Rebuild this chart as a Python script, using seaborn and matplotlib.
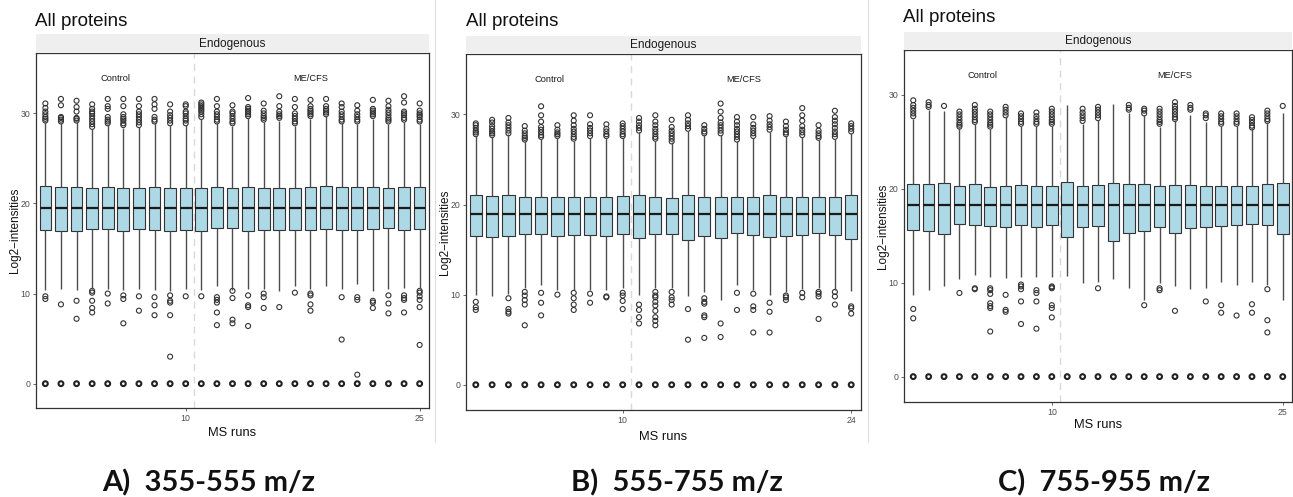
import numpy as np
import pandas as pd
import matplotlib
matplotlib.use("Agg")
import matplotlib.pyplot as plt
from matplotlib.lines import Line2D
import seaborn as sns

# ---- panel A : 355-555 m/z (25 runs) ----
a_runs = list(range(1, 26))
a_q1 = [17.1, 17.0, 17.0, 17.2, 17.2, 17.0, 17.2, 17.1, 17.0, 17.1, 17.0, 17.3, 17.3,
        17.0, 17.1, 17.1, 17.1, 17.1, 17.2, 17.1, 17.1, 17.2, 17.3, 17.1, 17.2]
a_med = [19.45, 19.45, 19.45, 19.45, 19.45, 19.45, 19.45, 19.45, 19.45, 19.45, 19.45, 19.45, 19.45,
         19.45, 19.45, 19.45, 19.45, 19.45, 19.45, 19.45, 19.45, 19.45, 19.45, 19.45, 19.45]
a_q3 = [21.9, 21.85, 21.85, 21.7, 21.8, 21.7, 21.7, 21.8, 21.7, 21.7, 21.7, 21.85, 21.7,
        21.85, 21.7, 21.7, 21.7, 21.8, 21.9, 21.8, 21.8, 21.8, 21.7, 21.8, 21.8]
a_lo = [10.4, 10.5, 10.4, 10.5, 10.5, 10.4, 10.5, 10.4, 10.3, 10.5, 10.4, 10.8, 10.4,
        10.5, 10.5, 10.3, 10.8, 10.5, 10.8, 10.5, 11.1, 10.3, 10.5, 10.6, 10.5]
a_hi = [29.0, 28.9, 29.0, 28.3, 28.7, 28.4, 28.5, 28.9, 28.7, 28.7, 29.4, 28.9, 28.6,
        29.5, 29.0, 29.2, 28.6, 29.4, 29.7, 28.9, 28.8, 29.4, 28.8, 29.0, 28.8]
a_high_out = [
    [29.2, 29.4, 29.6, 29.9, 30.2, 30.6, 31.1],
    [29.1, 29.3, 29.5, 29.6, 30.9, 31.6],
    [29.2, 29.4, 29.5, 30.2, 30.7, 31.4],
    [28.5, 28.8, 29.1, 29.4, 29.7, 30.0, 30.2, 30.5, 31.0],
    [28.9, 29.1, 29.3, 29.6, 30.5, 30.8, 31.6],
    [28.7, 28.9, 29.2, 29.4, 29.6, 29.9, 30.8, 31.6],
    [28.7, 29.0, 29.3, 29.6, 29.9, 30.2, 30.8, 31.6],
    [29.1, 29.3, 29.6, 30.5, 31.0, 31.6],
    [28.9, 29.2, 29.5, 29.8, 30.2, 31.0],
    [28.9, 29.2, 29.4, 29.7, 30.0, 30.2, 30.8, 31.0],
    [29.6, 29.9, 30.2, 30.4, 30.6, 30.8, 31.0, 31.2],
    [29.1, 29.3, 29.6, 29.9, 30.2, 30.8, 31.6],
    [28.9, 29.1, 29.4, 29.7, 30.0, 30.2, 30.9],
    [29.7, 29.9, 30.1, 30.3, 30.5, 30.7, 31.7],
    [29.3, 29.5, 29.7, 30.0, 30.3, 31.1],
    [29.5, 29.7, 29.9, 30.2, 30.8, 31.9],
    [28.9, 29.1, 29.4, 29.7, 30.0, 30.7, 31.6],
    [29.7, 29.9, 30.1, 30.3, 30.5, 30.8, 31.5],
    [29.9, 30.1, 30.3, 30.5, 30.8, 31.6],
    [29.1, 29.3, 29.6, 29.9, 30.2, 30.7, 31.1],
    [29.1, 29.3, 29.6, 29.9, 30.3, 30.9],
    [29.7, 29.9, 30.1, 30.3, 30.5, 31.5],
    [29.1, 29.3, 29.5, 29.8, 30.1, 30.4, 30.8, 31.4],
    [29.3, 29.5, 29.8, 30.0, 30.2, 31.2, 31.9],
    [29.1, 29.3, 29.6, 29.8, 30.0, 30.3, 31.1],
]
a_low_out = [
    [9.7, 9.4], [8.8], [9.2, 7.2], [10.3, 10.1, 9.2, 8.4, 7.9], [10.0, 8.9],
    [9.8, 9.4, 6.7], [9.7, 8.1], [9.6, 8.7, 7.6], [9.8, 9.2, 9.0, 7.6, 3.0], [9.7],
    [9.7], [9.6, 9.3, 9.0, 7.9, 6.5], [10.3, 9.5, 7.1, 6.7], [9.8, 8.7, 8.5, 6.4], [10.0, 9.6, 8.4],
    [8.5], [10.1], [10.0, 9.8, 8.8, 8.1], [], [9.6, 4.9],
    [9.6, 9.3, 1.0], [9.2, 9.0, 8.4], [9.8, 8.9, 7.8], [9.8, 9.5, 9.3, 7.9], [10.3, 10.1, 9.7, 9.3, 8.5, 4.3],
]

# ---- panel B : 555-755 m/z (24 runs) ----
b_runs = list(range(1, 25))
b_q1 = [16.5, 16.4, 16.5, 16.7, 16.7, 16.5, 16.6, 16.6, 16.5, 16.7, 16.3, 16.7,
        16.7, 16.1, 16.5, 16.3, 16.85, 16.6, 16.4, 16.5, 16.6, 16.8, 16.6, 16.2]
b_med = [18.9, 18.9, 18.9, 18.9, 18.9, 18.9, 18.9, 18.9, 18.9, 18.9, 18.9, 18.9,
         18.9, 18.9, 18.9, 18.9, 18.9, 18.9, 18.9, 18.9, 18.9, 18.9, 18.9, 18.9]
b_q3 = [21.0, 20.9, 21.0, 20.85, 20.85, 20.85, 20.8, 20.85, 20.85, 20.9, 21.0, 20.8,
        20.7, 21.0, 20.85, 20.85, 20.85, 20.85, 21.0, 20.85, 20.85, 20.85, 20.8, 21.0]
b_lo = [10.0, 9.8, 10.1, 10.7, 11.1, 10.5, 10.5, 10.5, 10.5, 10.7, 10.0, 10.7,
        10.7, 9.9, 10.3, 9.4, 11.1, 10.5, 10.0, 10.3, 10.6, 10.7, 10.5, 10.4]
b_hi = [27.6, 27.5, 27.8, 27.0, 27.3, 27.4, 27.1, 27.4, 27.4, 27.4, 28.0, 27.1,
        26.9, 28.2, 27.7, 27.7, 27.0, 27.4, 28.1, 27.6, 27.5, 27.2, 27.3, 27.9]
b_high_out = [
    [27.8, 28.0, 28.2, 28.5, 28.8, 29.0],
    [27.7, 27.9, 28.1, 28.4, 28.7, 29.1, 29.4],
    [27.9, 28.2, 28.5, 28.8, 29.1, 29.6],
    [27.2, 27.4, 27.6, 27.9, 28.2, 28.7],
    [27.5, 27.7, 28.0, 28.3, 28.6, 29.2, 29.9, 30.9],
    [27.6, 27.8, 28.0, 28.3, 28.8],
    [27.3, 27.5, 27.8, 28.1, 28.4, 28.8, 29.3, 29.9],
    [27.6, 27.9, 28.2, 28.5, 28.9, 29.9],
    [27.6, 27.8, 28.1, 28.4, 28.9],
    [27.6, 27.8, 28.1, 28.4, 28.7, 29.0],
    [28.2, 28.5, 28.8, 29.2, 29.6],
    [27.3, 27.5, 27.8, 28.1, 28.4, 28.8, 29.2, 29.9],
    [27.0, 27.3, 27.6, 27.9, 28.2, 28.6, 29.4],
    [28.4, 28.7, 29.0, 29.4, 29.9],
    [27.9, 28.1, 28.4, 28.8],
    [27.9, 28.2, 28.5, 28.8, 29.1, 29.6, 30.3, 31.2],
    [27.2, 27.5, 27.8, 28.1, 28.4, 28.8, 29.2, 29.7],
    [27.6, 27.9, 28.2, 28.5, 28.9, 29.7],
    [28.3, 28.6, 28.9, 29.3, 29.8],
    [27.8, 28.0, 28.3, 28.7, 29.2],
    [27.7, 28.0, 28.3, 28.7, 29.3, 29.9, 30.7],
    [27.4, 27.6, 27.9, 28.2, 28.8],
    [27.5, 27.8, 28.1, 28.5, 28.9, 29.3, 29.7, 30.4],
    [28.1, 28.4, 28.7, 29.0],
]
b_low_out = [
    [9.2, 8.6, 8.3], [], [9.6, 8.4, 8.1, 7.9], [10.3, 9.9, 9.4, 8.9, 6.6], [10.2, 9.1, 7.7],
    [10.0], [10.2, 9.6, 8.9, 8.3], [10.1, 9.1], [9.8, 9.7], [10.2, 9.9, 9.3, 8.4],
    [8.9, 8.3, 7.5, 6.8], [10.3, 9.9, 9.7, 9.2, 8.8, 8.2, 7.5, 7.1, 6.6], [10.3, 9.7, 9.4, 8.9],
    [8.4, 5.0], [9.6, 9.2, 9.0, 7.7, 7.5, 5.2], [6.8, 5.3], [10.2, 8.3], [10.1, 8.7, 8.3, 5.8],
    [9.1, 8.1, 5.8], [9.9, 9.7, 9.4], [10.2, 9.7], [10.3, 10.1, 9.8, 7.3], [10.3, 9.8, 8.9],
    [8.7, 8.5, 7.9],
]

# ---- panel C : 755-955 m/z (25 runs) ----
c_runs = list(range(1, 26))
c_q1 = [15.6, 15.5, 15.2, 16.2, 16.1, 16.0, 15.9, 16.1, 15.9, 16.1, 14.9, 15.9, 16.0,
        14.4, 15.3, 15.5, 15.9, 15.3, 15.8, 15.9, 16.0, 16.1, 16.2, 16.1, 15.2]
c_med = [18.3, 18.3, 18.3, 18.3, 18.3, 18.3, 18.3, 18.3, 18.3, 18.3, 18.3, 18.3, 18.3,
         18.3, 18.3, 18.3, 18.3, 18.3, 18.3, 18.3, 18.3, 18.3, 18.3, 18.3, 18.3]
c_q3 = [20.5, 20.5, 20.6, 20.3, 20.5, 20.2, 20.3, 20.4, 20.3, 20.3, 20.7, 20.3, 20.4,
        20.6, 20.5, 20.5, 20.3, 20.4, 20.4, 20.3, 20.3, 20.3, 20.3, 20.5, 20.6]
c_lo = [8.7, 9.2, 9.65, 10.4, 10.8, 10.6, 10.5, 10.6, 10.6, 10.55, 10.7, 10.0, 10.1,
        10.4, 9.4, 8.2, 10.0, 9.65, 9.3, 9.4, 10.1, 9.75, 10.1, 9.8, 8.2]
c_hi = [27.4, 28.4, 28.3, 26.4, 26.9, 26.3, 27.7, 26.7, 26.7, 26.7, 28.9, 26.9, 27.3,
        29.0, 28.0, 27.8, 26.6, 27.3, 27.8, 27.1, 26.7, 26.7, 26.4, 27.1, 28.1]
c_high_out = [
    [27.7, 28.0, 28.3, 28.6, 28.9, 29.4],
    [28.7, 28.9, 29.2],
    [28.8],
    [26.6, 26.8, 27.0, 27.3, 27.6, 27.9, 28.2],
    [27.1, 27.3, 27.6, 27.9, 28.2, 28.5, 28.9],
    [26.6, 26.8, 27.0, 27.3, 27.6, 27.9, 28.2],
    [27.8, 28.1, 28.4, 28.7],
    [26.9, 27.1, 27.4, 27.7, 28.0],
    [26.9, 27.1, 27.4, 27.7, 28.1],
    [26.9, 27.1, 27.3, 27.6, 27.9, 28.2, 28.5],
    [],
    [27.2, 27.5, 27.8, 28.1, 28.5],
    [27.5, 27.8, 28.1, 28.4, 28.7],
    [],
    [28.4, 28.6, 28.9],
    [28.0, 28.3, 28.5],
    [26.9, 27.1, 27.3, 27.6, 27.9, 28.2, 28.5],
    [27.4, 27.6, 27.9, 28.2, 28.5, 28.8, 29.2],
    [28.4, 28.6, 28.9],
    [27.5, 27.8, 28.0],
    [26.9, 27.1, 27.4, 27.7, 28.0],
    [26.9, 27.1, 27.4, 27.7, 28.0],
    [26.5, 26.7, 27.0, 27.3, 27.6],
    [27.2, 27.4, 27.7, 28.0, 28.3],
    [28.8],
]
c_low_out = [
    [7.2, 6.2], [], [], [8.9], [9.4, 9.3],
    [9.4, 9.2, 8.8, 7.8, 7.5, 7.3, 4.8], [8.7, 7.1, 6.9], [9.8, 9.6, 9.3, 8.0, 5.6],
    [9.2, 8.9, 8.0, 5.1], [9.6, 9.5, 9.4, 7.6, 7.3, 6.3],
    [], [], [9.4], [], [],
    [7.6], [9.4, 9.2], [7.0], [], [8.0],
    [7.6, 6.8], [6.5], [7.7, 6.8], [9.3, 6.0, 4.7], [],
]

zero_value = 0.0
panel_titles = ["All proteins", "All proteins", "All proteins"]
captions = ["A)  355-555 m/z", "B)  555-755 m/z", "C)  755-955 m/z"]
strip_label = "Endogenous"
group_labels = ["Control", "ME/CFS"]

W, H = 1293, 497
sns.set_theme(style="white")
plt.rcParams['font.family'] = ['Liberation Sans', 'DejaVu Sans']

fig = plt.figure(figsize=(W / 100, H / 100), dpi=100)


def px_axes(l, t, r, b):
    return fig.add_axes([l / W, 1 - b / H, (r - l) / W, (b - t) / H])


def box_frame(runs, lo, q1, med, q3, hi):
    rows = []
    for i, r in enumerate(runs):
        for v in (lo[i], q1[i], med[i], q3[i], hi[i]):
            rows.append({'run': r, 'value': v})
    return pd.DataFrame(rows)


def outlier_frame(runs, *lists):
    rows = []
    for lst in lists:
        for i, r in enumerate(runs):
            for v in lst[i]:
                rows.append({'run': r, 'value': v})
    return pd.DataFrame(rows)


panels = [
    dict(runs=a_runs, q1=a_q1, med=a_med, q3=a_q3, lo=a_lo, hi=a_hi, hout=a_high_out, lout=a_low_out,
         box=(36, 53, 429, 408), strip_top=34, ylim=(-2.7, 36.7), title_y=21, title_x=35,
         ylab_x=15, xlab_y=433, grp_y=33.9, grp_x=(5.5, 18.0), last_tick=25, cap_x=209),
    dict(runs=b_runs, q1=b_q1, med=b_med, q3=b_q3, lo=b_lo, hi=b_hi, hout=b_high_out, lout=b_low_out,
         box=(466, 54, 861, 410), strip_top=36, ylim=(-2.8, 36.7), title_y=21, title_x=466,
         ylab_x=445, xlab_y=437, grp_y=33.9, grp_x=(5.5, 17.4), last_tick=24, cap_x=677),
    dict(runs=c_runs, q1=c_q1, med=c_med, q3=c_q3, lo=c_lo, hi=c_hi, hout=c_high_out, lout=c_low_out,
         box=(904, 50, 1292, 402), strip_top=32, ylim=(-2.7, 34.75), title_y=17, title_x=903,
         ylab_x=883, xlab_y=425, grp_y=32.0, grp_x=(5.5, 18.0), last_tick=25, cap_x=1104),
]

for k, p in enumerate(panels):
    l, t, r, b = p['box']
    ax = px_axes(l, t, r, b)
    n = len(p['runs'])

    df_box = box_frame(p['runs'], p['lo'], p['q1'], p['med'], p['q3'], p['hi'])
    sns.boxplot(data=df_box, x='run', y='value', orient='x', native_scale=True,
                whis=(0, 100), showfliers=False, showcaps=False, width=0.75,
                saturation=1, color='#ADD8E6', linecolor='#333333', linewidth=0.8,
                medianprops=dict(color='#1a1a1a', linewidth=1.6),
                whiskerprops=dict(color='#4d4d4d', linewidth=1.0), ax=ax)

    ax.axvline(10.5, color='#d9d9d9', linestyle=(0, (5, 4)), linewidth=1.0, zorder=0)

    df_out = outlier_frame(p['runs'], p['hout'], p['lout'])
    sns.scatterplot(data=df_out, x='run', y='value', marker='o', s=13,
                    color='#333333', facecolor='none', edgecolor='#333333',
                    linewidth=0.8, legend=False, ax=ax)
    df_zero = pd.DataFrame({'run': p['runs'], 'value': [zero_value for _ in p['runs']]})
    sns.scatterplot(data=df_zero, x='run', y='value', marker='o', s=12,
                    color='#222222', facecolor='none', edgecolor='#222222',
                    linewidth=1.5, legend=False, ax=ax)

    ax.set_xlim(0.4, n + 0.6)
    ax.set_ylim(*p['ylim'])
    ax.set_xticks([10, p['last_tick']])
    ax.set_xticklabels(['10', str(p['last_tick'])])
    ax.set_yticks([0, 10, 20, 30])
    ax.tick_params(axis='both', labelsize=6.3, colors='#4d4d4d', length=2.5, width=0.6,
                   pad=1.5, left=True, bottom=True)
    for s in ax.spines.values():
        s.set_color('#333333')
        s.set_linewidth(0.9)
    ax.set_xlabel('')
    ax.set_ylabel('')

    ax.text(p['grp_x'][0], p['grp_y'], group_labels[0], ha='center', va='center', fontsize=6.7, color='#1a1a1a')
    ax.text(p['grp_x'][1], p['grp_y'], group_labels[1], ha='center', va='center', fontsize=6.7, color='#1a1a1a')

    # facet strip
    sax = px_axes(l, p['strip_top'], r, t)
    sax.set_facecolor('#efefef')
    sax.set_xticks([])
    sax.set_yticks([])
    for s in sax.spines.values():
        s.set_visible(False)
    sax.text(0.5, 0.5, strip_label, ha='center', va='center', fontsize=8.5, color='#1a1a1a',
             transform=sax.transAxes)

    fig.text(p['title_x'] / W, 1 - p['title_y'] / H, panel_titles[k], ha='left', va='center',
             fontsize=13.5, color='#111111')
    fig.text(p['ylab_x'] / W, 1 - ((t + b) / 2) / H, 'Log2\u2212intensities', rotation=90,
             ha='center', va='center', fontsize=8.5, color='#111111')
    fig.text(((l + r) / 2) / W, 1 - p['xlab_y'] / H, 'MS runs', ha='center', va='center',
             fontsize=9.3, color='#111111')
    fig.text(p['cap_x'] / W, 1 - 483 / H, captions[k], ha='center', va='center',
             fontsize=21, fontweight='bold', family=['Lato', 'DejaVu Sans'], color='#111111')

# thin separators between the three pasted panels
for xs in (435, 868):
    fig.add_artist(Line2D([xs / W, xs / W], [1 - 442 / H, 1.0], transform=fig.transFigure,
                          color='#dddddd', linewidth=0.8))

fig.savefig('out.png', dpi=100, facecolor='white')
